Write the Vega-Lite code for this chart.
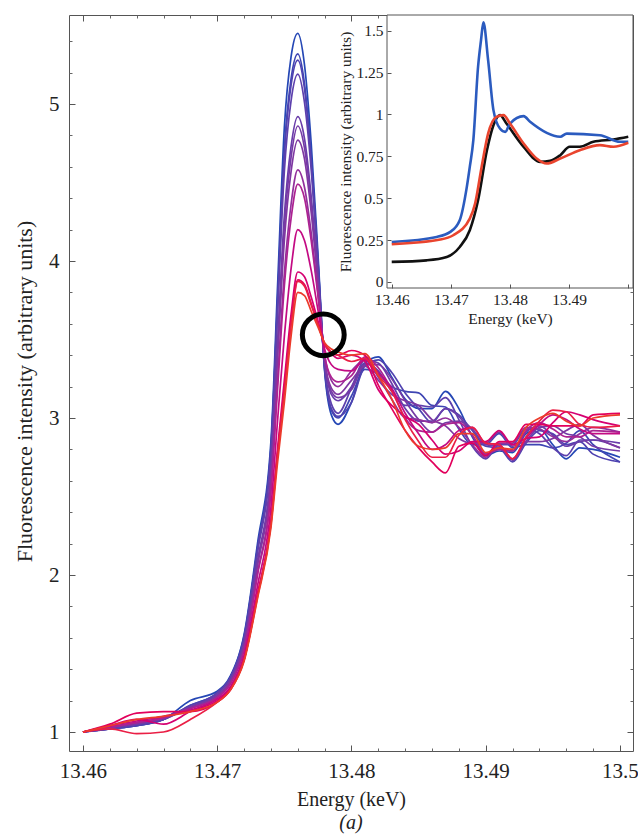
{
"$schema": "https://vega.github.io/schema/vega-lite/v6.json",
"width": 564, "height": 736,
"autosize": {"type": "none"},
"padding": {"left": 69, "top": 15, "right": 5, "bottom": 88},
"background": "white",
"config": {"font": "Liberation Serif", "view": {"stroke": "#555", "strokeWidth": 1}, "axis": {"labelColor": "#222", "titleColor": "#222", "titleFontWeight": "normal", "grid": false, "labelFont": "Liberation Serif", "titleFont": "Liberation Serif", "labelFlush": false, "labelOverlap": false}},
"title": {"text": "(a)", "orient": "bottom", "anchor": "middle", "font": "Liberation Serif", "fontSize": 20, "fontStyle": "italic", "fontWeight": "normal", "color": "#222", "offset": 4},
"datasets": {
"main": [
{"k":0,"x":13.46,"y":1.00},{"k":0,"x":13.462,"y":1.02},{"k":0,"x":13.464,"y":1.04},{"k":0,"x":13.466,"y":1.08},{"k":0,"x":13.468,"y":1.20},{"k":0,"x":13.47,"y":1.26},{"k":0,"x":13.471,"y":1.36},{"k":0,"x":13.472,"y":1.62},{"k":0,"x":13.473,"y":2.20},{"k":0,"x":13.474,"y":2.85},{"k":0,"x":13.4745,"y":3.85},{"k":0,"x":13.475,"y":4.85},{"k":0,"x":13.4755,"y":5.30},{"k":0,"x":13.476,"y":5.45},{"k":0,"x":13.4765,"y":5.25},{"k":0,"x":13.477,"y":4.75},{"k":0,"x":13.4775,"y":4.05},{"k":0,"x":13.478,"y":3.30},{"k":0,"x":13.4785,"y":3.02},{"k":0,"x":13.479,"y":2.96},{"k":0,"x":13.48,"y":3.10},{"k":0,"x":13.481,"y":3.35},{"k":0,"x":13.482,"y":3.39},{"k":0,"x":13.483,"y":3.26},{"k":0,"x":13.484,"y":3.12},{"k":0,"x":13.485,"y":3.06},{"k":0,"x":13.486,"y":3.06},{"k":0,"x":13.487,"y":3.17},{"k":0,"x":13.488,"y":3.06},{"k":0,"x":13.489,"y":2.88},{"k":0,"x":13.49,"y":2.76},{"k":0,"x":13.491,"y":2.79},{"k":0,"x":13.492,"y":2.78},{"k":0,"x":13.493,"y":2.90},{"k":0,"x":13.494,"y":2.93},{"k":0,"x":13.495,"y":2.83},{"k":0,"x":13.496,"y":2.74},{"k":0,"x":13.497,"y":2.81},{"k":0,"x":13.498,"y":2.80},{"k":0,"x":13.5,"y":2.75},
{"k":1,"x":13.46,"y":1.00},{"k":1,"x":13.462,"y":1.02},{"k":1,"x":13.464,"y":1.04},{"k":1,"x":13.466,"y":1.08},{"k":1,"x":13.468,"y":1.17},{"k":1,"x":13.47,"y":1.25},{"k":1,"x":13.471,"y":1.35},{"k":1,"x":13.472,"y":1.61},{"k":1,"x":13.473,"y":2.17},{"k":1,"x":13.474,"y":2.81},{"k":1,"x":13.4745,"y":3.76},{"k":1,"x":13.475,"y":4.71},{"k":1,"x":13.4755,"y":5.16},{"k":1,"x":13.476,"y":5.32},{"k":1,"x":13.4765,"y":5.13},{"k":1,"x":13.477,"y":4.66},{"k":1,"x":13.4775,"y":4.01},{"k":1,"x":13.478,"y":3.31},{"k":1,"x":13.4785,"y":3.05},{"k":1,"x":13.479,"y":3.00},{"k":1,"x":13.48,"y":3.14},{"k":1,"x":13.481,"y":3.31},{"k":1,"x":13.482,"y":3.28},{"k":1,"x":13.483,"y":3.20},{"k":1,"x":13.484,"y":3.17},{"k":1,"x":13.485,"y":3.16},{"k":1,"x":13.486,"y":3.08},{"k":1,"x":13.487,"y":3.07},{"k":1,"x":13.488,"y":2.93},{"k":1,"x":13.489,"y":2.83},{"k":1,"x":13.49,"y":2.83},{"k":1,"x":13.491,"y":2.90},{"k":1,"x":13.492,"y":2.81},{"k":1,"x":13.493,"y":2.83},{"k":1,"x":13.494,"y":2.83},{"k":1,"x":13.495,"y":2.81},{"k":1,"x":13.496,"y":2.84},{"k":1,"x":13.497,"y":2.92},{"k":1,"x":13.498,"y":2.83},{"k":1,"x":13.5,"y":2.72},
{"k":2,"x":13.46,"y":1.00},{"k":2,"x":13.462,"y":1.02},{"k":2,"x":13.464,"y":1.04},{"k":2,"x":13.466,"y":1.08},{"k":2,"x":13.468,"y":1.17},{"k":2,"x":13.47,"y":1.25},{"k":2,"x":13.471,"y":1.35},{"k":2,"x":13.472,"y":1.60},{"k":2,"x":13.473,"y":2.17},{"k":2,"x":13.474,"y":2.80},{"k":2,"x":13.4745,"y":3.74},{"k":2,"x":13.475,"y":4.68},{"k":2,"x":13.4755,"y":5.12},{"k":2,"x":13.476,"y":5.28},{"k":2,"x":13.4765,"y":5.10},{"k":2,"x":13.477,"y":4.64},{"k":2,"x":13.4775,"y":4.00},{"k":2,"x":13.478,"y":3.32},{"k":2,"x":13.4785,"y":3.06},{"k":2,"x":13.479,"y":3.01},{"k":2,"x":13.48,"y":3.10},{"k":2,"x":13.481,"y":3.33},{"k":2,"x":13.482,"y":3.37},{"k":2,"x":13.483,"y":3.29},{"k":2,"x":13.484,"y":3.16},{"k":2,"x":13.485,"y":3.06},{"k":2,"x":13.486,"y":2.97},{"k":2,"x":13.487,"y":3.06},{"k":2,"x":13.488,"y":3.02},{"k":2,"x":13.489,"y":2.92},{"k":2,"x":13.49,"y":2.82},{"k":2,"x":13.491,"y":2.81},{"k":2,"x":13.492,"y":2.72},{"k":2,"x":13.493,"y":2.84},{"k":2,"x":13.494,"y":2.92},{"k":2,"x":13.495,"y":2.90},{"k":2,"x":13.496,"y":2.83},{"k":2,"x":13.497,"y":2.85},{"k":2,"x":13.498,"y":2.77},{"k":2,"x":13.5,"y":2.72},
{"k":3,"x":13.46,"y":1.00},{"k":3,"x":13.462,"y":1.02},{"k":3,"x":13.464,"y":1.05},{"k":3,"x":13.466,"y":1.08},{"k":3,"x":13.468,"y":1.16},{"k":3,"x":13.47,"y":1.25},{"k":3,"x":13.471,"y":1.35},{"k":3,"x":13.472,"y":1.59},{"k":3,"x":13.473,"y":2.14},{"k":3,"x":13.474,"y":2.76},{"k":3,"x":13.4745,"y":3.67},{"k":3,"x":13.475,"y":4.57},{"k":3,"x":13.4755,"y":5.02},{"k":3,"x":13.476,"y":5.19},{"k":3,"x":13.4765,"y":5.01},{"k":3,"x":13.477,"y":4.58},{"k":3,"x":13.4775,"y":3.97},{"k":3,"x":13.478,"y":3.33},{"k":3,"x":13.4785,"y":3.09},{"k":3,"x":13.479,"y":3.03},{"k":3,"x":13.48,"y":3.19},{"k":3,"x":13.481,"y":3.35},{"k":3,"x":13.482,"y":3.30},{"k":3,"x":13.483,"y":3.17},{"k":3,"x":13.484,"y":3.08},{"k":3,"x":13.485,"y":3.08},{"k":3,"x":13.486,"y":3.07},{"k":3,"x":13.487,"y":3.13},{"k":3,"x":13.488,"y":2.99},{"k":3,"x":13.489,"y":2.82},{"k":3,"x":13.49,"y":2.74},{"k":3,"x":13.491,"y":2.83},{"k":3,"x":13.492,"y":2.83},{"k":3,"x":13.493,"y":2.93},{"k":3,"x":13.494,"y":2.90},{"k":3,"x":13.495,"y":2.81},{"k":3,"x":13.496,"y":2.76},{"k":3,"x":13.497,"y":2.86},{"k":3,"x":13.498,"y":2.86},{"k":3,"x":13.5,"y":2.81},
{"k":4,"x":13.46,"y":1.00},{"k":4,"x":13.462,"y":1.03},{"k":4,"x":13.464,"y":1.05},{"k":4,"x":13.466,"y":1.09},{"k":4,"x":13.468,"y":1.16},{"k":4,"x":13.47,"y":1.24},{"k":4,"x":13.471,"y":1.33},{"k":4,"x":13.472,"y":1.57},{"k":4,"x":13.473,"y":2.09},{"k":4,"x":13.474,"y":2.67},{"k":4,"x":13.4745,"y":3.49},{"k":4,"x":13.475,"y":4.29},{"k":4,"x":13.4755,"y":4.73},{"k":4,"x":13.476,"y":4.92},{"k":4,"x":13.4765,"y":4.78},{"k":4,"x":13.477,"y":4.41},{"k":4,"x":13.4775,"y":3.90},{"k":4,"x":13.478,"y":3.36},{"k":4,"x":13.4785,"y":3.15},{"k":4,"x":13.479,"y":3.11},{"k":4,"x":13.48,"y":3.20},{"k":4,"x":13.481,"y":3.37},{"k":4,"x":13.482,"y":3.35},{"k":4,"x":13.483,"y":3.22},{"k":4,"x":13.484,"y":3.06},{"k":4,"x":13.485,"y":2.98},{"k":4,"x":13.486,"y":2.98},{"k":4,"x":13.487,"y":3.06},{"k":4,"x":13.488,"y":3.01},{"k":4,"x":13.489,"y":2.89},{"k":4,"x":13.49,"y":2.77},{"k":4,"x":13.491,"y":2.80},{"k":4,"x":13.492,"y":2.79},{"k":4,"x":13.493,"y":2.91},{"k":4,"x":13.494,"y":2.95},{"k":4,"x":13.495,"y":2.89},{"k":4,"x":13.496,"y":2.82},{"k":4,"x":13.497,"y":2.85},{"k":4,"x":13.498,"y":2.86},{"k":4,"x":13.5,"y":2.84},
{"k":5,"x":13.46,"y":1.00},{"k":5,"x":13.462,"y":1.03},{"k":5,"x":13.464,"y":1.05},{"k":5,"x":13.466,"y":1.09},{"k":5,"x":13.468,"y":1.16},{"k":5,"x":13.47,"y":1.23},{"k":5,"x":13.471,"y":1.33},{"k":5,"x":13.472,"y":1.56},{"k":5,"x":13.473,"y":2.07},{"k":5,"x":13.474,"y":2.65},{"k":5,"x":13.4745,"y":3.44},{"k":5,"x":13.475,"y":4.22},{"k":5,"x":13.4755,"y":4.66},{"k":5,"x":13.476,"y":4.86},{"k":5,"x":13.4765,"y":4.72},{"k":5,"x":13.477,"y":4.37},{"k":5,"x":13.4775,"y":3.88},{"k":5,"x":13.478,"y":3.37},{"k":5,"x":13.4785,"y":3.17},{"k":5,"x":13.479,"y":3.13},{"k":5,"x":13.48,"y":3.18},{"k":5,"x":13.481,"y":3.34},{"k":5,"x":13.482,"y":3.34},{"k":5,"x":13.483,"y":3.25},{"k":5,"x":13.484,"y":3.11},{"k":5,"x":13.485,"y":2.99},{"k":5,"x":13.486,"y":2.91},{"k":5,"x":13.487,"y":2.97},{"k":5,"x":13.488,"y":2.98},{"k":5,"x":13.489,"y":2.93},{"k":5,"x":13.49,"y":2.83},{"k":5,"x":13.491,"y":2.82},{"k":5,"x":13.492,"y":2.73},{"k":5,"x":13.493,"y":2.85},{"k":5,"x":13.494,"y":2.94},{"k":5,"x":13.495,"y":2.95},{"k":5,"x":13.496,"y":2.90},{"k":5,"x":13.497,"y":2.88},{"k":5,"x":13.498,"y":2.82},{"k":5,"x":13.5,"y":2.79},
{"k":6,"x":13.46,"y":1.00},{"k":6,"x":13.462,"y":1.03},{"k":6,"x":13.464,"y":1.06},{"k":6,"x":13.466,"y":1.09},{"k":6,"x":13.468,"y":1.15},{"k":6,"x":13.47,"y":1.23},{"k":6,"x":13.471,"y":1.32},{"k":6,"x":13.472,"y":1.55},{"k":6,"x":13.473,"y":2.06},{"k":6,"x":13.474,"y":2.62},{"k":6,"x":13.4745,"y":3.39},{"k":6,"x":13.475,"y":4.13},{"k":6,"x":13.4755,"y":4.57},{"k":6,"x":13.476,"y":4.77},{"k":6,"x":13.4765,"y":4.65},{"k":6,"x":13.477,"y":4.31},{"k":6,"x":13.4775,"y":3.86},{"k":6,"x":13.478,"y":3.37},{"k":6,"x":13.4785,"y":3.19},{"k":6,"x":13.479,"y":3.15},{"k":6,"x":13.48,"y":3.24},{"k":6,"x":13.481,"y":3.33},{"k":6,"x":13.482,"y":3.24},{"k":6,"x":13.483,"y":3.15},{"k":6,"x":13.484,"y":3.11},{"k":6,"x":13.485,"y":3.08},{"k":6,"x":13.486,"y":2.99},{"k":6,"x":13.487,"y":2.95},{"k":6,"x":13.488,"y":2.87},{"k":6,"x":13.489,"y":2.84},{"k":6,"x":13.49,"y":2.84},{"k":6,"x":13.491,"y":2.91},{"k":6,"x":13.492,"y":2.82},{"k":6,"x":13.493,"y":2.85},{"k":6,"x":13.494,"y":2.85},{"k":6,"x":13.495,"y":2.87},{"k":6,"x":13.496,"y":2.92},{"k":6,"x":13.497,"y":2.96},{"k":6,"x":13.498,"y":2.89},{"k":6,"x":13.5,"y":2.81},
{"k":7,"x":13.46,"y":1.00},{"k":7,"x":13.462,"y":1.03},{"k":7,"x":13.464,"y":1.06},{"k":7,"x":13.466,"y":1.09},{"k":7,"x":13.468,"y":1.15},{"k":7,"x":13.47,"y":1.22},{"k":7,"x":13.471,"y":1.31},{"k":7,"x":13.472,"y":1.53},{"k":7,"x":13.473,"y":2.01},{"k":7,"x":13.474,"y":2.56},{"k":7,"x":13.4745,"y":3.25},{"k":7,"x":13.475,"y":3.92},{"k":7,"x":13.4755,"y":4.36},{"k":7,"x":13.476,"y":4.58},{"k":7,"x":13.4765,"y":4.47},{"k":7,"x":13.477,"y":4.18},{"k":7,"x":13.4775,"y":3.80},{"k":7,"x":13.478,"y":3.40},{"k":7,"x":13.4785,"y":3.24},{"k":7,"x":13.479,"y":3.20},{"k":7,"x":13.48,"y":3.30},{"k":7,"x":13.481,"y":3.37},{"k":7,"x":13.482,"y":3.26},{"k":7,"x":13.483,"y":3.12},{"k":7,"x":13.484,"y":3.00},{"k":7,"x":13.485,"y":2.99},{"k":7,"x":13.486,"y":2.97},{"k":7,"x":13.487,"y":3.00},{"k":7,"x":13.488,"y":2.94},{"k":7,"x":13.489,"y":2.83},{"k":7,"x":13.49,"y":2.75},{"k":7,"x":13.491,"y":2.84},{"k":7,"x":13.492,"y":2.84},{"k":7,"x":13.493,"y":2.94},{"k":7,"x":13.494,"y":2.93},{"k":7,"x":13.495,"y":2.88},{"k":7,"x":13.496,"y":2.85},{"k":7,"x":13.497,"y":2.90},{"k":7,"x":13.498,"y":2.94},{"k":7,"x":13.5,"y":2.91},
{"k":8,"x":13.46,"y":1.00},{"k":8,"x":13.462,"y":1.03},{"k":8,"x":13.464,"y":1.06},{"k":8,"x":13.466,"y":1.09},{"k":8,"x":13.468,"y":1.15},{"k":8,"x":13.47,"y":1.22},{"k":8,"x":13.471,"y":1.31},{"k":8,"x":13.472,"y":1.52},{"k":8,"x":13.473,"y":2.00},{"k":8,"x":13.474,"y":2.53},{"k":8,"x":13.4745,"y":3.19},{"k":8,"x":13.475,"y":3.84},{"k":8,"x":13.4755,"y":4.27},{"k":8,"x":13.476,"y":4.49},{"k":8,"x":13.4765,"y":4.40},{"k":8,"x":13.477,"y":4.13},{"k":8,"x":13.4775,"y":3.78},{"k":8,"x":13.478,"y":3.40},{"k":8,"x":13.4785,"y":3.26},{"k":8,"x":13.479,"y":3.23},{"k":8,"x":13.48,"y":3.27},{"k":8,"x":13.481,"y":3.39},{"k":8,"x":13.482,"y":3.32},{"k":8,"x":13.483,"y":3.18},{"k":8,"x":13.484,"y":3.00},{"k":8,"x":13.485,"y":2.92},{"k":8,"x":13.486,"y":2.91},{"k":8,"x":13.487,"y":2.96},{"k":8,"x":13.488,"y":2.97},{"k":8,"x":13.489,"y":2.89},{"k":8,"x":13.49,"y":2.77},{"k":8,"x":13.491,"y":2.80},{"k":8,"x":13.492,"y":2.79},{"k":8,"x":13.493,"y":2.92},{"k":8,"x":13.494,"y":2.97},{"k":8,"x":13.495,"y":2.93},{"k":8,"x":13.496,"y":2.88},{"k":8,"x":13.497,"y":2.88},{"k":8,"x":13.498,"y":2.92},{"k":8,"x":13.5,"y":2.91},
{"k":9,"x":13.46,"y":1.00},{"k":9,"x":13.462,"y":1.04},{"k":9,"x":13.464,"y":1.07},{"k":9,"x":13.466,"y":1.10},{"k":9,"x":13.468,"y":1.14},{"k":9,"x":13.47,"y":1.21},{"k":9,"x":13.471,"y":1.29},{"k":9,"x":13.472,"y":1.49},{"k":9,"x":13.473,"y":1.93},{"k":9,"x":13.474,"y":2.43},{"k":9,"x":13.4745,"y":2.99},{"k":9,"x":13.475,"y":3.52},{"k":9,"x":13.4755,"y":3.95},{"k":9,"x":13.476,"y":4.20},{"k":9,"x":13.4765,"y":4.13},{"k":9,"x":13.477,"y":3.94},{"k":9,"x":13.4775,"y":3.69},{"k":9,"x":13.478,"y":3.44},{"k":9,"x":13.4785,"y":3.34},{"k":9,"x":13.479,"y":3.31},{"k":9,"x":13.48,"y":3.30},{"k":9,"x":13.481,"y":3.37},{"k":9,"x":13.482,"y":3.29},{"k":9,"x":13.483,"y":3.19},{"k":9,"x":13.484,"y":3.03},{"k":9,"x":13.485,"y":2.90},{"k":9,"x":13.486,"y":2.80},{"k":9,"x":13.487,"y":2.83},{"k":9,"x":13.488,"y":2.92},{"k":9,"x":13.489,"y":2.94},{"k":9,"x":13.49,"y":2.84},{"k":9,"x":13.491,"y":2.83},{"k":9,"x":13.492,"y":2.74},{"k":9,"x":13.493,"y":2.87},{"k":9,"x":13.494,"y":2.96},{"k":9,"x":13.495,"y":3.02},{"k":9,"x":13.496,"y":2.99},{"k":9,"x":13.497,"y":2.93},{"k":9,"x":13.498,"y":2.90},{"k":9,"x":13.5,"y":2.90},
{"k":10,"x":13.46,"y":1.00},{"k":10,"x":13.462,"y":1.04},{"k":10,"x":13.464,"y":1.08},{"k":10,"x":13.466,"y":1.05},{"k":10,"x":13.468,"y":1.13},{"k":10,"x":13.47,"y":1.20},{"k":10,"x":13.471,"y":1.28},{"k":10,"x":13.472,"y":1.46},{"k":10,"x":13.473,"y":1.88},{"k":10,"x":13.474,"y":2.34},{"k":10,"x":13.4745,"y":2.81},{"k":10,"x":13.475,"y":3.24},{"k":10,"x":13.4755,"y":3.66},{"k":10,"x":13.476,"y":3.93},{"k":10,"x":13.4765,"y":3.90},{"k":10,"x":13.477,"y":3.77},{"k":10,"x":13.4775,"y":3.62},{"k":10,"x":13.478,"y":3.47},{"k":10,"x":13.4785,"y":3.41},{"k":10,"x":13.479,"y":3.38},{"k":10,"x":13.48,"y":3.40},{"k":10,"x":13.481,"y":3.36},{"k":10,"x":13.482,"y":3.18},{"k":10,"x":13.483,"y":3.08},{"k":10,"x":13.484,"y":3.01},{"k":10,"x":13.485,"y":2.96},{"k":10,"x":13.486,"y":2.86},{"k":10,"x":13.487,"y":2.77},{"k":10,"x":13.488,"y":2.79},{"k":10,"x":13.489,"y":2.85},{"k":10,"x":13.49,"y":2.85},{"k":10,"x":13.491,"y":2.92},{"k":10,"x":13.492,"y":2.83},{"k":10,"x":13.493,"y":2.87},{"k":10,"x":13.494,"y":2.88},{"k":10,"x":13.495,"y":2.97},{"k":10,"x":13.496,"y":3.04},{"k":10,"x":13.497,"y":3.02},{"k":10,"x":13.498,"y":2.99},{"k":10,"x":13.5,"y":2.95},
{"k":11,"x":13.46,"y":1.00},{"k":11,"x":13.462,"y":1.05},{"k":11,"x":13.464,"y":1.12},{"k":11,"x":13.466,"y":1.13},{"k":11,"x":13.468,"y":1.13},{"k":11,"x":13.47,"y":1.19},{"k":11,"x":13.471,"y":1.27},{"k":11,"x":13.472,"y":1.46},{"k":11,"x":13.473,"y":1.87},{"k":11,"x":13.474,"y":2.33},{"k":11,"x":13.4745,"y":2.78},{"k":11,"x":13.475,"y":3.19},{"k":11,"x":13.4755,"y":3.61},{"k":11,"x":13.476,"y":3.88},{"k":11,"x":13.4765,"y":3.85},{"k":11,"x":13.477,"y":3.73},{"k":11,"x":13.4775,"y":3.60},{"k":11,"x":13.478,"y":3.47},{"k":11,"x":13.4785,"y":3.42},{"k":11,"x":13.479,"y":3.40},{"k":11,"x":13.48,"y":3.43},{"k":11,"x":13.481,"y":3.40},{"k":11,"x":13.482,"y":3.21},{"k":11,"x":13.483,"y":3.06},{"k":11,"x":13.484,"y":2.92},{"k":11,"x":13.485,"y":2.81},{"k":11,"x":13.486,"y":2.72},{"k":11,"x":13.487,"y":2.65},{"k":11,"x":13.488,"y":2.82},{"k":11,"x":13.489,"y":2.84},{"k":11,"x":13.49,"y":2.76},{"k":11,"x":13.491,"y":2.85},{"k":11,"x":13.492,"y":2.85},{"k":11,"x":13.493,"y":2.96},{"k":11,"x":13.494,"y":2.96},{"k":11,"x":13.495,"y":2.95},{"k":11,"x":13.496,"y":2.95},{"k":11,"x":13.497,"y":2.95},{"k":11,"x":13.498,"y":3.02},{"k":11,"x":13.5,"y":3.03},
{"k":12,"x":13.46,"y":1.00},{"k":12,"x":13.462,"y":1.02},{"k":12,"x":13.464,"y":0.99},{"k":12,"x":13.466,"y":1.00},{"k":12,"x":13.468,"y":1.08},{"k":12,"x":13.47,"y":1.19},{"k":12,"x":13.471,"y":1.27},{"k":12,"x":13.472,"y":1.46},{"k":12,"x":13.473,"y":1.86},{"k":12,"x":13.474,"y":2.32},{"k":12,"x":13.4745,"y":2.77},{"k":12,"x":13.475,"y":3.17},{"k":12,"x":13.4755,"y":3.59},{"k":12,"x":13.476,"y":3.87},{"k":12,"x":13.4765,"y":3.84},{"k":12,"x":13.477,"y":3.72},{"k":12,"x":13.4775,"y":3.60},{"k":12,"x":13.478,"y":3.47},{"k":12,"x":13.4785,"y":3.42},{"k":12,"x":13.479,"y":3.40},{"k":12,"x":13.48,"y":3.36},{"k":12,"x":13.481,"y":3.38},{"k":12,"x":13.482,"y":3.27},{"k":12,"x":13.483,"y":3.17},{"k":12,"x":13.484,"y":2.99},{"k":12,"x":13.485,"y":2.85},{"k":12,"x":13.486,"y":2.75},{"k":12,"x":13.487,"y":2.75},{"k":12,"x":13.488,"y":2.89},{"k":12,"x":13.489,"y":2.94},{"k":12,"x":13.49,"y":2.84},{"k":12,"x":13.491,"y":2.83},{"k":12,"x":13.492,"y":2.74},{"k":12,"x":13.493,"y":2.88},{"k":12,"x":13.494,"y":2.98},{"k":12,"x":13.495,"y":3.05},{"k":12,"x":13.496,"y":3.04},{"k":12,"x":13.497,"y":2.96},{"k":12,"x":13.498,"y":2.94},{"k":12,"x":13.5,"y":2.95},
{"k":13,"x":13.46,"y":1.00},{"k":13,"x":13.462,"y":1.04},{"k":13,"x":13.464,"y":1.08},{"k":13,"x":13.466,"y":1.10},{"k":13,"x":13.468,"y":1.13},{"k":13,"x":13.47,"y":1.19},{"k":13,"x":13.471,"y":1.27},{"k":13,"x":13.472,"y":1.45},{"k":13,"x":13.473,"y":1.85},{"k":13,"x":13.474,"y":2.30},{"k":13,"x":13.4745,"y":2.72},{"k":13,"x":13.475,"y":3.10},{"k":13,"x":13.4755,"y":3.52},{"k":13,"x":13.476,"y":3.80},{"k":13,"x":13.4765,"y":3.78},{"k":13,"x":13.477,"y":3.68},{"k":13,"x":13.4775,"y":3.58},{"k":13,"x":13.478,"y":3.48},{"k":13,"x":13.4785,"y":3.44},{"k":13,"x":13.479,"y":3.42},{"k":13,"x":13.48,"y":3.40},{"k":13,"x":13.481,"y":3.41},{"k":13,"x":13.482,"y":3.27},{"k":13,"x":13.483,"y":3.12},{"k":13,"x":13.484,"y":2.92},{"k":13,"x":13.485,"y":2.82},{"k":13,"x":13.486,"y":2.80},{"k":13,"x":13.487,"y":2.81},{"k":13,"x":13.488,"y":2.90},{"k":13,"x":13.489,"y":2.90},{"k":13,"x":13.49,"y":2.78},{"k":13,"x":13.491,"y":2.81},{"k":13,"x":13.492,"y":2.80},{"k":13,"x":13.493,"y":2.94},{"k":13,"x":13.494,"y":3.00},{"k":13,"x":13.495,"y":3.03},{"k":13,"x":13.496,"y":2.98},{"k":13,"x":13.497,"y":2.95},{"k":13,"x":13.498,"y":3.00},{"k":13,"x":13.5,"y":3.02}
],
"inset": [
{"c":"black","x":13.46,"y":0.120},{"c":"black","x":13.4659,"y":0.129},{"c":"black","x":13.4693,"y":0.149},{"c":"black","x":13.4715,"y":0.209},{"c":"black","x":13.4732,"y":0.309},{"c":"black","x":13.4746,"y":0.488},{"c":"black","x":13.4761,"y":0.787},{"c":"black","x":13.4772,"y":0.936},{"c":"black","x":13.4783,"y":0.996},{"c":"black","x":13.4794,"y":0.946},{"c":"black","x":13.4823,"y":0.807},{"c":"black","x":13.4851,"y":0.717},{"c":"black","x":13.4868,"y":0.723},{"c":"black","x":13.4885,"y":0.757},{"c":"black","x":13.4901,"y":0.807},{"c":"black","x":13.4918,"y":0.807},{"c":"black","x":13.4941,"y":0.837},{"c":"black","x":13.4975,"y":0.851},{"c":"black","x":13.5,"y":0.867},
{"c":"blue","x":13.46,"y":0.239},{"c":"blue","x":13.4676,"y":0.269},{"c":"blue","x":13.4699,"y":0.299},{"c":"blue","x":13.4715,"y":0.369},{"c":"blue","x":13.4727,"y":0.568},{"c":"blue","x":13.4732,"y":0.687},{"c":"blue","x":13.4738,"y":0.847},{"c":"blue","x":13.4746,"y":1.285},{"c":"blue","x":13.4751,"y":1.444},{"c":"blue","x":13.4755,"y":1.55},{"c":"blue","x":13.4763,"y":1.325},{"c":"blue","x":13.4772,"y":1.026},{"c":"blue","x":13.4783,"y":0.916},{"c":"blue","x":13.4792,"y":0.896},{"c":"blue","x":13.48,"y":0.946},{"c":"blue","x":13.4823,"y":0.990},{"c":"blue","x":13.4834,"y":0.956},{"c":"blue","x":13.4885,"y":0.867},{"c":"blue","x":13.4896,"y":0.886},{"c":"blue","x":13.4952,"y":0.876},{"c":"blue","x":13.4986,"y":0.837},{"c":"blue","x":13.5,"y":0.837},
{"c":"red","x":13.46,"y":0.225},{"c":"red","x":13.4682,"y":0.253},{"c":"red","x":13.4704,"y":0.279},{"c":"red","x":13.4732,"y":0.378},{"c":"red","x":13.4741,"y":0.468},{"c":"red","x":13.4752,"y":0.687},{"c":"red","x":13.4763,"y":0.886},{"c":"red","x":13.4777,"y":0.986},{"c":"red","x":13.4789,"y":0.996},{"c":"red","x":13.48,"y":0.946},{"c":"red","x":13.4823,"y":0.827},{"c":"red","x":13.4845,"y":0.737},{"c":"red","x":13.4862,"y":0.707},{"c":"red","x":13.4885,"y":0.737},{"c":"red","x":13.4918,"y":0.787},{"c":"red","x":13.4952,"y":0.817},{"c":"red","x":13.4975,"y":0.807},{"c":"red","x":13.5,"y":0.831}
],
"circle": [{"x": 13.4779, "y": 3.53}],
"one": [{"d": 0}]
},
"resolve": {"scale": {"x": "independent", "y": "independent", "color": "independent"}, "axis": {"x": "independent", "y": "independent"}},
"layer": [
{
"data": {"name": "main"},
"mark": {"type": "line", "strokeWidth": 1.7, "interpolate": "monotone"},
"encoding": {
"x": {"field": "x", "type": "quantitative", "scale": {"domain": [13.45896, 13.50097], "zero": false, "nice": false}, "axis": {"orient": "bottom", "values": [13.46, 13.47, 13.48, 13.49, 13.5], "format": ".2~f", "ticks": false, "domain": false, "labelFontSize": 21, "labelPadding": 9, "title": "Energy (keV)", "titleFontSize": 20, "titlePadding": 8}},
"y": {"field": "y", "type": "quantitative", "scale": {"domain": [0.879, 5.567], "zero": false, "nice": false}, "axis": {"orient": "left", "values": [1, 2, 3, 4, 5], "format": "d", "ticks": false, "domain": false, "labelFontSize": 21, "labelPadding": 10, "title": "Fluorescence intensity (arbitrary units)", "titleFontSize": 22, "titlePadding": 12, "titleY": 376}},
"color": {"field": "k", "type": "quantitative", "scale": {"domain": [0, 13], "range": ["#2547b5", "#83369f", "#ec3b2b"]}, "legend": null},
"detail": {"field": "k", "type": "nominal"}
}
},
{
"data": {"name": "one"},
"mark": {"type": "point", "opacity": 0},
"encoding": {
"x": {"datum": 13.48, "type": "quantitative", "scale": {"domain": [13.45896, 13.50097], "zero": false, "nice": false}, "axis": {"orient": "bottom", "values": [13.46, 13.47, 13.48, 13.49, 13.5], "labels": false, "domain": false, "tickSize": -6, "tickColor": "#555", "title": null}},
"y": {"datum": 3, "type": "quantitative", "scale": {"domain": [0.879, 5.567], "zero": false, "nice": false}, "axis": {"orient": "left", "values": [1, 2, 3, 4, 5], "labels": false, "domain": false, "tickSize": -6, "tickColor": "#555", "title": null}}
}
},
{
"data": {"name": "one"},
"mark": {"type": "point", "opacity": 0},
"encoding": {
"x": {"datum": 13.48, "type": "quantitative", "scale": {"domain": [13.45896, 13.50097], "zero": false, "nice": false}, "axis": {"orient": "top", "values": [13.46, 13.47, 13.48, 13.49, 13.5], "labels": false, "domain": false, "tickSize": -6, "tickColor": "#555", "title": null}},
"y": {"datum": 3, "type": "quantitative", "scale": {"domain": [0.879, 5.567], "zero": false, "nice": false}, "axis": {"orient": "right", "values": [1, 2, 3, 4, 5], "labels": false, "domain": false, "tickSize": -6, "tickColor": "#555", "title": null}}
}
},
{
"data": {"name": "one"},
"mark": {"type": "point", "opacity": 0},
"encoding": {
"x": {"datum": 13.48, "type": "quantitative", "scale": {"domain": [13.45896, 13.50097], "zero": false, "nice": false}, "axis": {"orient": "bottom", "values": [13.462, 13.464, 13.466, 13.468, 13.472, 13.474, 13.476, 13.478, 13.482, 13.484, 13.486, 13.488, 13.492, 13.494, 13.496, 13.498], "labels": false, "domain": false, "tickSize": -3, "tickColor": "#666", "title": null}},
"y": {"datum": 3, "type": "quantitative", "scale": {"domain": [0.879, 5.567], "zero": false, "nice": false}, "axis": {"orient": "left", "values": [1.2, 1.4, 1.6, 1.8, 2.2, 2.4, 2.6, 2.8, 3.2, 3.4, 3.6, 3.8, 4.2, 4.4, 4.6, 4.8, 5.2, 5.4], "labels": false, "domain": false, "tickSize": -3, "tickColor": "#666", "title": null}}
}
},
{
"data": {"name": "one"},
"mark": {"type": "point", "opacity": 0},
"encoding": {
"x": {"datum": 13.48, "type": "quantitative", "scale": {"domain": [13.45896, 13.50097], "zero": false, "nice": false}, "axis": {"orient": "top", "values": [13.462, 13.464, 13.466, 13.468, 13.472, 13.474, 13.476, 13.478, 13.482, 13.484, 13.486, 13.488, 13.492, 13.494, 13.496, 13.498], "labels": false, "domain": false, "tickSize": -3, "tickColor": "#666", "title": null}},
"y": {"datum": 3, "type": "quantitative", "scale": {"domain": [0.879, 5.567], "zero": false, "nice": false}, "axis": {"orient": "right", "values": [1.2, 1.4, 1.6, 1.8, 2.2, 2.4, 2.6, 2.8, 3.2, 3.4, 3.6, 3.8, 4.2, 4.4, 4.6, 4.8, 5.2, 5.4], "labels": false, "domain": false, "tickSize": -3, "tickColor": "#666", "title": null}}
}
},
{
"data": {"name": "circle"},
"mark": {"type": "point", "shape": "circle", "filled": false, "stroke": "black", "strokeWidth": 5, "size": 1750, "opacity": 1},
"encoding": {
"x": {"field": "x", "type": "quantitative", "scale": {"domain": [13.45896, 13.50097], "zero": false, "nice": false}, "axis": null},
"y": {"field": "y", "type": "quantitative", "scale": {"domain": [0.879, 5.567], "zero": false, "nice": false}, "axis": null}
}
},
{
"data": {"name": "one"},
"mark": {"type": "rect", "fill": "white", "stroke": "#555", "strokeWidth": 1},
"encoding": {
"x": {"datum": 13.4592, "type": "quantitative", "scale": {"domain": [13.4592, 13.5008], "range": [318, 564], "zero": false, "nice": false}, "axis": null},
"x2": {"datum": 13.5008},
"y": {"datum": -0.036, "type": "quantitative", "scale": {"domain": [-0.036, 1.594], "range": [273, 0], "zero": false, "nice": false}, "axis": null},
"y2": {"datum": 1.594}
}
},
{
"data": {"name": "inset"},
"mark": {"type": "line", "strokeWidth": 2.6, "interpolate": "monotone"},
"encoding": {
"x": {"field": "x", "type": "quantitative", "scale": {"domain": [13.4592, 13.5008], "range": [318, 564], "zero": false, "nice": false}, "axis": {"orient": "bottom", "offset": -463, "zindex": 1, "values": [13.46, 13.47, 13.48, 13.49], "format": ".2~f", "ticks": false, "domain": false, "labelFontSize": 15.5, "labelPadding": 4, "title": "Energy (keV)", "titleFontSize": 15.5, "titlePadding": 4}},
"y": {"field": "y", "type": "quantitative", "scale": {"domain": [-0.036, 1.594], "range": [273, 0], "zero": false, "nice": false}, "axis": {"orient": "left", "offset": -318, "zindex": 1, "values": [0, 0.25, 0.5, 0.75, 1, 1.25, 1.5], "format": ".2~f", "ticks": false, "domain": false, "labelFontSize": 15.5, "labelPadding": 4, "title": "Fluorescence intensity (arbitrary units)", "titleFontSize": 15.5, "titlePadding": 2}},
"color": {"field": "c", "type": "nominal", "scale": {"domain": ["black", "blue", "red"], "range": ["#111111", "#2b5bbf", "#e9442e"]}, "legend": null}
}
},
{
"data": {"name": "one"},
"mark": {"type": "point", "opacity": 0},
"encoding": {
"x": {"datum": 13.48, "type": "quantitative", "scale": {"domain": [13.4592, 13.5008], "range": [318, 564], "zero": false, "nice": false}, "axis": {"orient": "bottom", "offset": -463, "zindex": 1, "values": [13.46, 13.47, 13.48, 13.49, 13.5], "labels": false, "domain": false, "tickSize": -4, "tickColor": "#555", "title": null}},
"y": {"datum": 0.5, "type": "quantitative", "scale": {"domain": [-0.036, 1.594], "range": [273, 0], "zero": false, "nice": false}, "axis": {"orient": "left", "offset": -318, "zindex": 1, "values": [0, 0.25, 0.5, 0.75, 1, 1.25, 1.5], "labels": false, "domain": false, "tickSize": -4, "tickColor": "#555", "title": null}}
}
}
]
}
